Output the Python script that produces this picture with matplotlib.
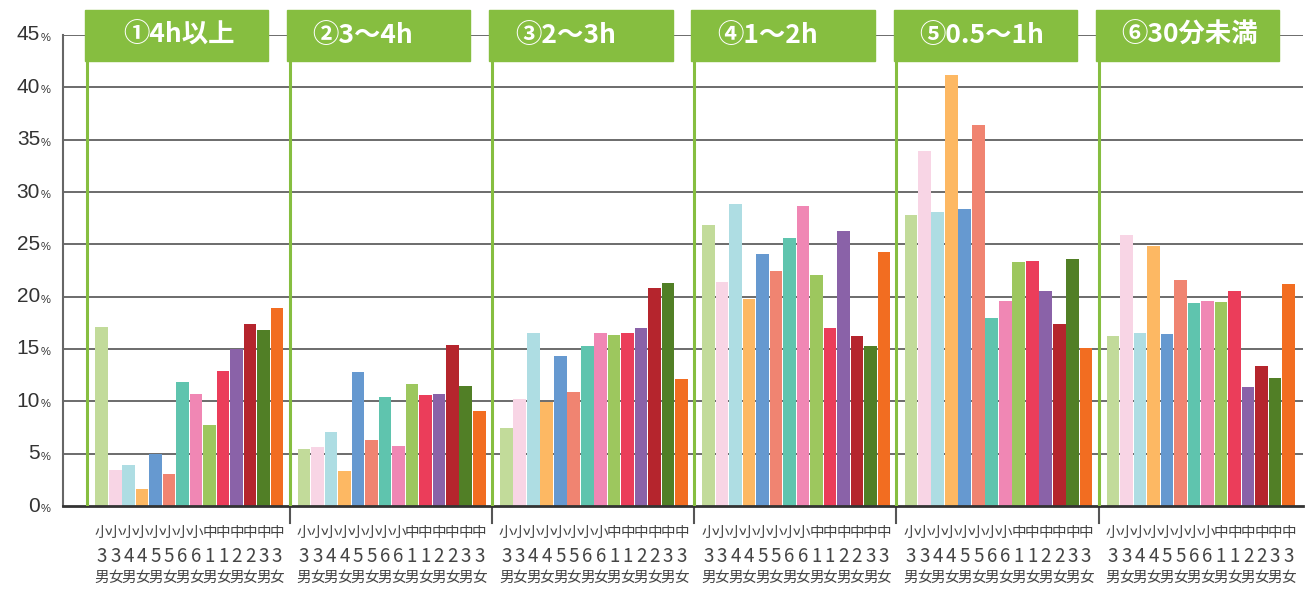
import matplotlib.pyplot as plt
from matplotlib.patches import Rectangle

plt.rcParams['font.family'] = ['Noto Sans CJK JP', 'DejaVu Sans']

# 学年・性別ごとの区分
groups = ['①4h以上', '②3～4h', '③2～3h', '④1～2h', '⑤0.5～1h', '⑥30分未満']
school = ['小'] * 8 + ['中'] * 6
grade = ['3', '3', '4', '4', '5', '5', '6', '6', '1', '1', '2', '2', '3', '3']
sex = ['男', '女'] * 7

# 割合(%)  並び: 小3男, 小3女, 小4男, ... 中3女
v_4h = [17.1, 3.4, 3.9, 1.6, 5.0, 3.1, 11.8, 10.7, 7.7, 12.9, 15.0, 17.4, 16.8, 18.9]
v_3_4h = [5.4, 5.6, 7.1, 3.3, 12.8, 6.3, 10.4, 5.7, 11.7, 10.6, 10.7, 15.4, 11.5, 9.1]
v_2_3h = [7.5, 10.2, 16.5, 9.9, 14.3, 10.9, 15.3, 16.5, 16.3, 16.5, 17.0, 20.8, 21.3, 12.1]
v_1_2h = [26.8, 21.4, 28.9, 19.8, 24.1, 22.5, 25.6, 28.7, 22.1, 17.0, 26.3, 16.2, 15.3, 24.3]
v_05_1h = [27.8, 33.9, 28.1, 41.2, 28.4, 36.4, 18.0, 19.6, 23.3, 23.4, 20.5, 17.4, 23.6, 15.1]
v_30m = [16.2, 25.9, 16.5, 24.8, 16.4, 21.6, 19.4, 19.6, 19.5, 20.5, 11.4, 13.4, 12.2, 21.2]
values = [v_4h, v_3_4h, v_2_3h, v_1_2h, v_05_1h, v_30m]

colors = ['#C2DB9A', '#F8D5E5', '#AEDDE3', '#FDB863', '#6699D0', '#F08471', '#5FC4AE',
          '#F087B4', '#9DC75E', '#EB3D5A', '#8A62A8', '#B5252D', '#517F26', '#F26D21']
green = '#86BE40'

fig = plt.figure(figsize=(13.06, 5.90), dpi=100)
ax = fig.add_axes([63 / 1306, 84 / 590, 1240 / 1306, 471 / 590])

stride = 15
for g, vals in enumerate(values):
    xs = [g * stride + 1.07 + i for i in range(len(vals))]
    ax.bar(xs, vals, width=0.94, color=colors, zorder=2)
    for i, x in enumerate(xs):
        ax.annotate(school[i], xy=(x, 0), xytext=(0, -27), textcoords='offset pixels',
                    ha='center', va='center', fontsize=10.5, color='#444444')
        ax.annotate(grade[i], xy=(x, 0), xytext=(0, -50), textcoords='offset pixels',
                    ha='center', va='center', fontsize=13.5, color='#444444')
        ax.annotate(sex[i], xy=(x, 0), xytext=(0, -72), textcoords='offset pixels',
                    ha='center', va='center', fontsize=10.5, color='#444444')

    # 区分の見出しと縦線
    x0 = g * stride
    ax.plot([x0, x0], [0, 42.5], color=green, lw=2.2, zorder=3)
    ax.add_patch(Rectangle((x0 - 0.2, 42.52), 13.6, 4.87, color=green, clip_on=False, zorder=4))
    off = 2.7 if g == 0 else 1.7
    ax.text(x0 + off, 44.95, groups[g], color='white', fontsize=19, fontweight='bold',
            ha='left', va='center', zorder=5, clip_on=False)
    if g > 0:
        ax.plot([x0, x0], [0, -1.6], color='#555555', lw=1.5, clip_on=False)

for v in range(5, 50, 5):
    ax.axhline(v, color='#444444', lw=1.1, zorder=1)

for v in range(0, 50, 5):
    ax.annotate(str(v), xy=(0, v), xycoords=('axes fraction', 'data'), xytext=(-23, 0),
                textcoords='offset pixels', ha='right', va='center', fontsize=15,
                color='#333333', family='Liberation Sans')
    ax.annotate('%', xy=(0, v), xytext=(-22, -3), xycoords=('axes fraction', 'data'),
                textcoords='offset pixels', ha='left', va='center', fontsize=8,
                color='#333333', family='Liberation Sans')

ax.set_xlim(-1.8, 90.15)
ax.set_ylim(0, 45)
ax.set_xticks([])
ax.set_yticks([])
for s in ['top', 'right']:
    ax.spines[s].set_visible(False)
ax.spines['left'].set_color('#666666')
ax.spines['left'].set_linewidth(1.5)
ax.spines['bottom'].set_color('#333333')
ax.spines['bottom'].set_linewidth(2)

fig.savefig('out.png', dpi=100)
